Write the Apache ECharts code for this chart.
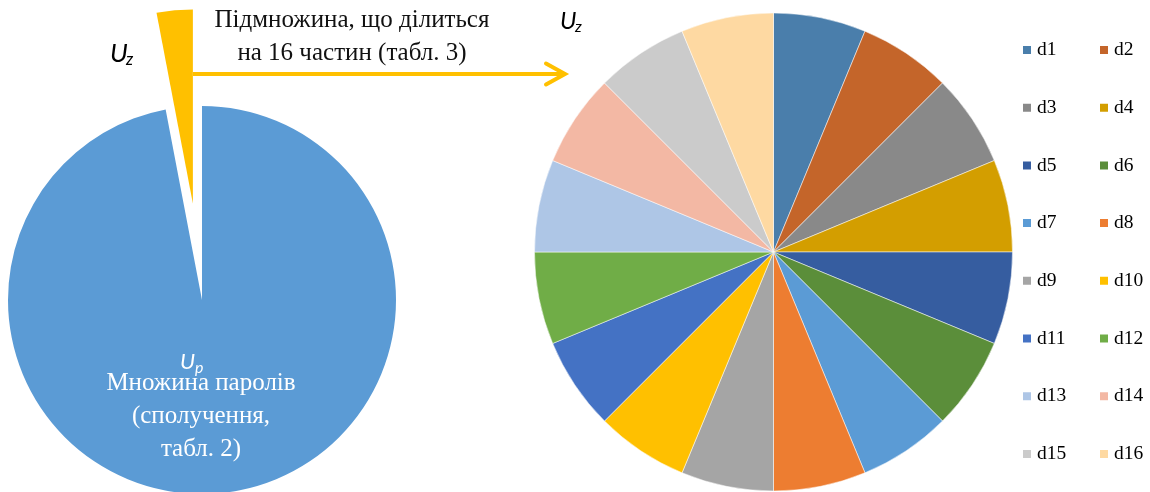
<!DOCTYPE html>
<html>
<head>
<meta charset="utf-8">
<script src="https://cdn.jsdelivr.net/npm/echarts@6/dist/echarts.min.js"></script>
<style>
html,body{margin:0;padding:0;background:#fff;}
#chart{width:1150px;height:492px;}
</style>
</head>
<body>
<div id="chart"></div>
<script>
// Left pie: password set split into U_p and U_z
const leftNames = ['Up', 'Uz'];
const leftValues = [97, 3];
const leftColors = ['#5B9BD5', '#FFC000'];

// Right pie: U_z split into 16 equal parts
const rightNames = ['d1','d2','d3','d4','d5','d6','d7','d8','d9','d10','d11','d12','d13','d14','d15','d16'];
const rightValues = [1,1,1,1,1,1,1,1,1,1,1,1,1,1,1,1];
const rightColors = ['#4A7EAB','#C4652A','#898989','#D39E00','#365DA0','#5B8E3A',
                     '#5B9BD5','#ED7D31','#A5A5A5','#FFC000','#4472C4','#70AD47',
                     '#AEC6E6','#F3B8A4','#CBCBCB','#FED9A2'];

const legendLeft = rightNames.filter((n, i) => i % 2 === 0);
const legendRight = rightNames.filter((n, i) => i % 2 === 1);

const chart = echarts.init(document.getElementById('chart'), null, {renderer: 'canvas'});

const legendBase = {
  orient: 'vertical',
  top: 40,
  padding: 0,
  itemWidth: 10,
  itemHeight: 10,
  itemGap: 37.7,
  icon: 'rect',
  selectedMode: false,
  textStyle: {fontFamily: 'Liberation Serif', fontSize: 19.5, color: '#000', lineHeight: 20}
};

const option = {
  animation: false,
  backgroundColor: '#fff',
  legend: [
    Object.assign({}, legendBase, {left: 1021, data: legendLeft}),
    Object.assign({}, legendBase, {left: 1098, data: legendRight})
  ],
  series: [
    {
      type: 'pie',
      center: [202, 300],
      radius: [0, 194],
      startAngle: 90,
      clockwise: true,
      selectedMode: 'single',
      selectedOffset: 97,
      label: {show: false},
      labelLine: {show: false},
      emphasis: {disabled: true},
      data: leftNames.map((n, i) => ({
        name: n, value: leftValues[i], selected: i === 1,
        itemStyle: {color: leftColors[i]}
      }))
    },
    {
      type: 'pie',
      center: [773.5, 252],
      radius: [0, 239],
      startAngle: 90,
      clockwise: true,
      label: {show: false},
      labelLine: {show: false},
      emphasis: {disabled: true},
      itemStyle: {borderColor: '#fff', borderWidth: 0.5},
      data: rightNames.map((n, i) => ({
        name: n, value: rightValues[i], itemStyle: {color: rightColors[i]}
      }))
    }
  ],
  graphic: [
    // arrow
    {type: 'polyline', z: 50, shape: {points: [[193, 74], [564, 74]]},
     style: {stroke: '#FFC000', lineWidth: 4, fill: null}},
    {type: 'polyline', z: 50, shape: {points: [[546, 63.5], [565, 74], [546, 84.5]]},
     style: {stroke: '#FFC000', lineWidth: 4, fill: null, lineJoin: 'miter', lineCap: 'round'}},
    // heading text
    {type: 'text', z: 100, x: 352, y: 37,
     style: {text: 'Підмножина, що ділиться\nна 16 частин (табл. 3)', align: 'center', verticalAlign: 'middle',
             font: '25px "Liberation Serif"', lineHeight: 33, fill: '#111'}},
    // U_z left
    {type: 'text', z: 100, x: 110, y: 54,
     style: {text: 'U', align: 'left', verticalAlign: 'middle', font: 'italic 26px Lato', fill: '#000'}},
    {type: 'text', z: 100, x: 126, y: 60,
     style: {text: 'z', align: 'left', verticalAlign: 'middle', font: 'italic 17px Lato', fill: '#000'}},
    // U_z right
    {type: 'text', z: 100, x: 560, y: 21,
     style: {text: 'U', align: 'left', verticalAlign: 'middle', font: 'italic 24px Lato', fill: '#000'}},
    {type: 'text', z: 100, x: 575, y: 27,
     style: {text: 'z', align: 'left', verticalAlign: 'middle', font: 'italic 16px Lato', fill: '#000'}},
    // U_p
    {type: 'text', z: 100, x: 180, y: 362,
     style: {text: 'U', align: 'left', verticalAlign: 'middle', font: 'italic 22px Lato', fill: '#fff'}},
    {type: 'text', z: 100, x: 195, y: 368,
     style: {text: 'p', align: 'left', verticalAlign: 'middle', font: 'italic 16px Lato', fill: '#fff'}},
    // pie inner text
    {type: 'text', z: 100, x: 201, y: 416,
     style: {text: 'Множина паролів\n(сполучення,\nтабл. 2)', align: 'center', verticalAlign: 'middle',
             font: '25px "Liberation Serif"', lineHeight: 33, fill: '#fff'}}
  ]
};
chart.setOption(option);
</script>
</body>
</html>
